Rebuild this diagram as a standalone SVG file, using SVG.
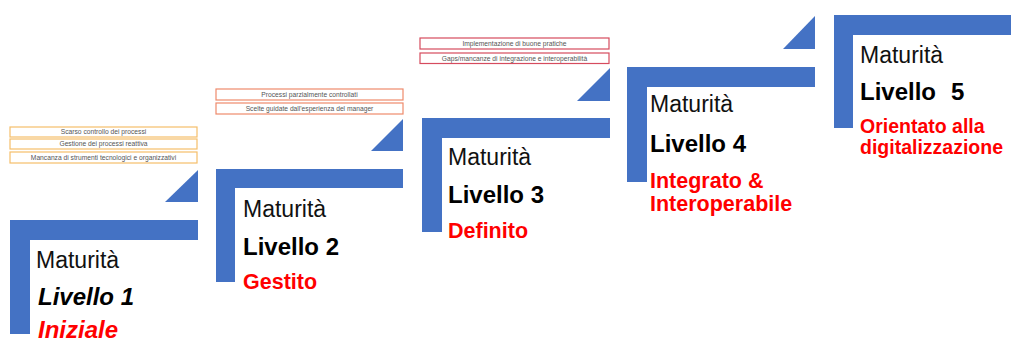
<svg xmlns="http://www.w3.org/2000/svg" width="1011" height="343" viewBox="0 0 1011 343">
<style>
.bar{fill:#4472C4}
.mat{font-family:"Liberation Sans",Arial,sans-serif;font-size:23px;fill:#111}
.liv{font-family:"Liberation Sans",Arial,sans-serif;font-size:24px;font-weight:bold;fill:#000}
.red{font-family:"Liberation Sans",Arial,sans-serif;font-weight:bold;fill:#FF0000}
.box{fill:#fff;stroke-width:1.2}
.b1{stroke:#F5BE6A}
.b2{stroke:#EE8A6C}
.b3{stroke:#D64B5E}
.bt{font-family:"Liberation Sans",Arial,sans-serif;font-size:6.7px;fill:#555;text-anchor:middle}
</style>
<rect width="1011" height="343" fill="#fff"/>
<g id="level1">
<rect class="box b1" x="10" y="127" width="187" height="10"/>
<text class="bt" x="103.5" y="134.4">Scarso controllo dei processi</text>
<rect class="box b1" x="10" y="139" width="187" height="10"/>
<text class="bt" x="103.5" y="146.4">Gestione dei processi reattiva</text>
<rect class="box b1" x="10" y="152" width="187" height="11"/>
<text class="bt" x="103.5" y="159.9">Mancanza di strumenti tecnologici e organizzativi</text>
<polygon class="bar" points="198,170 198,202 165,202"/>
<path class="bar" d="M10,220 H198 V240 H30 V334 H10 Z"/>
<text class="mat" x="36" y="268">Maturità</text>
<text class="liv" x="38" y="305" font-style="italic">Livello 1</text>
<text class="red" x="38" y="338" font-size="24" font-style="italic">Iniziale</text>
</g>
<g id="level2">
<rect class="box b2" x="216" y="89" width="187" height="11"/>
<text class="bt" x="309.5" y="96.9">Processi parzialmente controllati</text>
<rect class="box b2" x="216" y="103" width="187" height="11"/>
<text class="bt" x="309.5" y="110.9">Scelte guidate dall'esperienza del manager</text>
<polygon class="bar" points="403,119 403,151 371,151"/>
<path class="bar" d="M216,169 H403 V188 H235 V282 H216 Z"/>
<text class="mat" x="243" y="217">Maturità</text>
<text class="liv" x="243" y="255">Livello 2</text>
<text class="red" x="243" y="289" font-size="21.5">Gestito</text>
</g>
<g id="level3">
<rect class="box b3" x="420" y="38" width="189" height="11"/>
<text class="bt" x="514.5" y="45.9">Implementazione di buone pratiche</text>
<rect class="box b3" x="420" y="53" width="189" height="10.5"/>
<text class="bt" x="514.5" y="60.6">Gaps/mancanze di integrazione e interoperabilità</text>
<polygon class="bar" points="610,68 610,101 577,101"/>
<path class="bar" d="M422,118 H610 V138 H442 V232 H422 Z"/>
<text class="mat" x="448" y="165">Maturità</text>
<text class="liv" x="448" y="203">Livello 3</text>
<text class="red" x="448" y="238" font-size="21.5">Definito</text>
</g>
<g id="level4">
<polygon class="bar" points="815,16 815,49 783,49"/>
<path class="bar" d="M627,67 H815 V87 H647 V182 H627 Z"/>
<text class="mat" x="650" y="112">Maturità</text>
<text class="liv" x="650" y="152">Livello 4</text>
<text class="red" x="650" y="188" font-size="21.5">Integrato &amp;</text>
<text class="red" x="650" y="211" font-size="21.5">Interoperabile</text>
</g>
<g id="level5">
<path class="bar" d="M834,15 H1011 V35 H853 V128 H834 Z"/>
<text class="mat" x="860" y="63">Maturità</text>
<text class="liv" x="860" y="100">Livello</text>
<text class="liv" x="951" y="100">5</text>
<text class="red" x="860" y="133" font-size="19.5">Orientato alla</text>
<text class="red" x="860" y="154" font-size="19.5">digitalizzazione</text>
</g>
<g id="connectors"/>
</svg>
